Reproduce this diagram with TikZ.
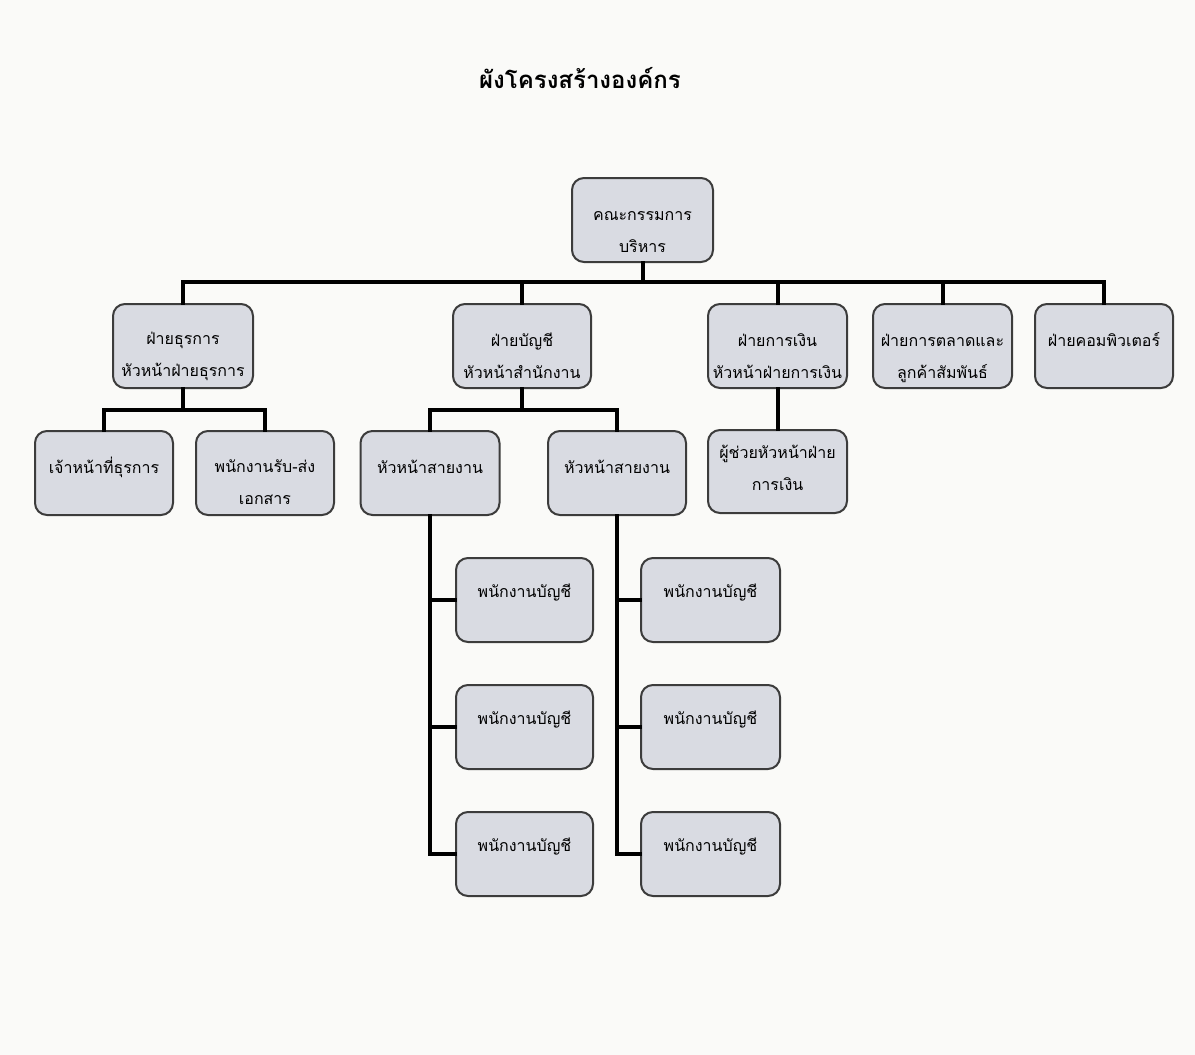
\documentclass[tikz,border=0pt]{standalone}
\usepackage{fontspec}
\newfontfamily\thaifont[Script=Thai]{Loma}
\begin{document}
\begin{tikzpicture}[x=1pt,y=-1pt,
  box/.style={draw=boxline, line width=2pt, fill=boxfill, rounded corners=12pt,
    minimum width=138pt, minimum height=84pt, inner sep=0pt},
  txt/.style={align=center, inner sep=0pt, font=\thaifont\fontsize{16}{32}\selectfont},
  conn/.style={draw=black, line width=4pt, line join=miter, line cap=rect}]
\definecolor{boxfill}{HTML}{D9DBE2}
\definecolor{boxline}{HTML}{3C3C3C}
\definecolor{bg}{HTML}{FAFAF8}
\fill[bg] (0,0) rectangle (1195,1055);
\useasboundingbox (0,0) rectangle (1195,1055);
\node[font=\thaifont\bfseries\fontsize{24}{28}\selectfont] (title) at (580,78) {ผังโครงสร้างองค์กร};
% boxes
\node[box, minimum width=141pt] (top) at (642.5,220) {};
\node[box, minimum width=140pt] (b1) at (183,346) {};
\node[box] (b2) at (522,346) {};
\node[box, minimum width=139pt] (b3) at (777.5,346) {};
\node[box, minimum width=139pt] (b4) at (942.5,346) {};
\node[box] (b5) at (1104,346) {};
\node[box] (c1) at (104,473) {};
\node[box] (c2) at (265,473) {};
\node[box, minimum width=139pt] (c3) at (430,473) {};
\node[box] (c4) at (617,473) {};
\node[box, minimum width=139pt, minimum height=83pt] (f1) at (777.5,471.5) {};
\node[box, minimum width=137pt] (d1) at (524.5,600) {};
\node[box, minimum width=137pt] (d2) at (524.5,727) {};
\node[box, minimum width=137pt] (d3) at (524.5,854) {};
\node[box, minimum width=139pt] (e1) at (710.5,600) {};
\node[box, minimum width=139pt] (e2) at (710.5,727) {};
\node[box, minimum width=139pt] (e3) at (710.5,854) {};
% texts
\node[txt] (ttop) at ([yshift=-12pt]top.center) {คณะกรรมการ\\บริหาร};
\node[txt] (tb1) at ([yshift=-10pt]b1.center) {ฝ่ายธุรการ\\หัวหน้าฝ่ายธุรการ};
\node[txt] (tb2) at ([yshift=-10pt]b2.center) {ฝ่ายบัญชี\\หัวหน้าสำนักงาน};
\node[txt] (tb3) at ([yshift=-10pt]b3.center) {ฝ่ายการเงิน\\หัวหน้าฝ่ายการเงิน};
\node[txt] (tb4) at ([yshift=-12pt]b4.center) {ฝ่ายการตลาดและ\\ลูกค้าสัมพันธ์};
\node[txt] (tb5) at ([yshift=6pt]b5.center) {ฝ่ายคอมพิวเตอร์};
\node[txt] (tc1) at ([yshift=6pt]c1.center) {เจ้าหน้าที่ธุรการ};
\node[txt] (tc2) at ([yshift=-9pt]c2.center) {พนักงานรับ-ส่ง\\เอกสาร};
\node[txt] (tc3) at ([yshift=6pt]c3.center) {หัวหน้าสายงาน};
\node[txt] (tc4) at ([yshift=6pt]c4.center) {หัวหน้าสายงาน};
\node[txt] (tf1) at ([yshift=4pt]f1.center) {ผู้ช่วยหัวหน้าฝ่าย\\การเงิน};
\node[txt] (td1) at ([yshift=7pt]d1.center) {พนักงานบัญชี};
\node[txt] (td2) at ([yshift=7pt]d2.center) {พนักงานบัญชี};
\node[txt] (td3) at ([yshift=7pt]d3.center) {พนักงานบัญชี};
\node[txt] (te1) at ([yshift=7pt]e1.center) {พนักงานบัญชี};
\node[txt] (te2) at ([yshift=7pt]e2.center) {พนักงานบัญชี};
\node[txt] (te3) at ([yshift=7pt]e3.center) {พนักงานบัญชี};
% bus coordinates
\coordinate (bus1) at (0,282);
\coordinate (bus2) at (0,410);
% connectors level 1
\draw[conn] (top.south) -- (top.south |- bus1);
\draw[conn] (b1.north) -- (b1.north |- bus1) -- (b5.north |- bus1) -- (b5.north);
\draw[conn] (b2.north) -- (b2.north |- bus1);
\draw[conn] (b3.north) -- (b3.north |- bus1);
\draw[conn] (b4.north) -- (b4.north |- bus1);
% level 2
\draw[conn] (b1.south) -- (b1.south |- bus2);
\draw[conn] (c1.north) -- (c1.north |- bus2) -- (c2.north |- bus2) -- (c2.north);
\draw[conn] (b2.south) -- (b2.south |- bus2);
\draw[conn] (c3.north) -- (c3.north |- bus2) -- (c4.north |- bus2) -- (c4.north);
\draw[conn] (b3.south) -- (f1.north);
% level 3
\draw[conn] (c3.south) |- (d3.west);
\draw[conn] (d1.west) -- (d1.west -| c3.south);
\draw[conn] (d2.west) -- (d2.west -| c3.south);
\draw[conn] (c4.south) |- (e3.west);
\draw[conn] (e1.west) -- (e1.west -| c4.south);
\draw[conn] (e2.west) -- (e2.west -| c4.south);
\end{tikzpicture}
\end{document}
